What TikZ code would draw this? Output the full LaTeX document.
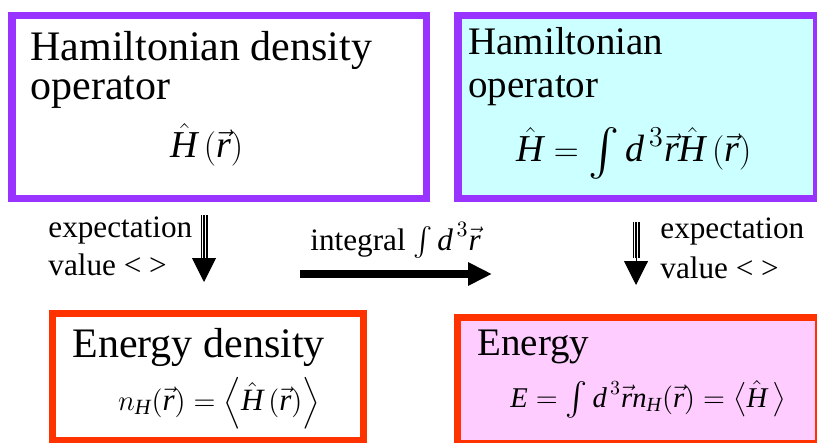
\documentclass[tikz,border=0pt]{standalone}
\usepackage{amsmath}
\usepackage{fontspec}
\setmainfont{Liberation Serif}
\usetikzlibrary{positioning, arrows.meta}
\definecolor{boxpurple}{HTML}{9933FF}
\definecolor{boxred}{HTML}{FF3300}
\definecolor{boxcyan}{HTML}{CCFFFF}
\definecolor{boxpink}{HTML}{FFCCFF}
\newcommand{\Hh}{\hat{\textit{H}}}
\newcommand{\rv}{\vec{\textit{r}}}
\newcommand{\bint}[1]{\mathop{\vcenter{\hbox{\scalebox{#1}{$\int$}}}}}

\begin{document}
\begin{tikzpicture}[
    x=0.5pt, y=-0.5pt,
    hbox/.style={draw=boxpurple, line width=3.75pt, minimum height=91.25pt, inner sep=0pt},
    ebox/.style={draw=boxred, line width=3.5pt, inner sep=0pt},
    bigl/.style={anchor=base west, inner sep=0pt, font=\fontsize{21}{25}\selectfont},
    bigr/.style={anchor=base west, inner sep=0pt, font=\fontsize{19.5}{23}\selectfont},
    formula/.style={anchor=base, inner sep=0pt},
    small/.style={anchor=base west, inner sep=0pt, font=\fontsize{15.6}{19}\selectfont},
    shaft/.style={draw=black, line width=3.5pt, postaction={draw=white, line width=2.1pt, postaction={draw=black, line width=0.7pt}}},
    head/.style={-{Triangle[length=12pt, width=12pt]}, line width=0.5pt},
    bigarrow/.style={-{Triangle[length=12pt, width=11pt]}, line width=4pt}
]
\useasboundingbox (0,0) rectangle (817,443);
\clip (0,0) rectangle (817,443);

% boxes
\node[hbox, minimum width=207.25pt] (h1) at (219,107) {};
\node[hbox, fill=boxcyan, minimum width=179.25pt] (h2) at (637,107) {};
\node[ebox, minimum width=155.5pt, minimum height=63.5pt] (e1) at (208,377) {};
\node[ebox, fill=boxpink, minimum width=180.5pt, minimum height=63pt] (e2) at (638,380.5) {};

% texts in the boxes
\node[bigl] (h1a) at (30,61) {Hamiltonian density};
\node[bigl] (h1b) at (30,100) {operator};
\node[formula, font=\fontsize{19}{23}\selectfont] (h1f) at (207,158) {$\Hh\,(\rv)$};
\node[bigr] (h2a) at (468,55) {Hamiltonian};
\node[bigr] (h2b) at (468,98) {operator};
\node[formula, font=\fontsize{19}{23}\selectfont] (h2f) at (634,162) {$\Hh=\bint{1.35}\textit{d}^{\,3}\rv\Hh\,(\rv)$};
\node[bigl] (e1a) at (72,357) {Energy density};
\node[formula, font=\fontsize{15.5}{19}\selectfont] (e1f) at (219,410) {$n_{\textit{H}}(\rv)=\left\langle\Hh\,(\rv)\right\rangle$};
\node[bigr] (e2a) at (477,355) {Energy};
\node[formula, font=\fontsize{14.3}{18}\selectfont] (e2f) at (648,407) {$\textit{E}=\bint{1.15}\textit{d}^{\,3}\rv\textit{n}_{\textit{H}}(\rv)=\left\langle\Hh\,\right\rangle$};

% labels
\node[small] (l1a) at (48,237) {expectation};
\node[small] (l1b) at (48,275) {value < >};
\node[small] (l2a) at (660,238) {expectation};
\node[small] (l2b) at (660,278) {value < >};
\node[small] (int) at (310,250) {integral $\int\textit{d}^{\,3}\rv$};

% arrows
\draw[shaft] ([shift={(-15,13)}]h1.south) -- ([shift={(-4,-52)}]e1.north);
\draw[head] ([shift={(-15,13)}]h1.south) -- ([shift={(-4,-28)}]e1.north);
\draw[shaft] ([shift={(-1,20)}]h2.south) -- ([shift={(-2,-56)}]e2.north);
\draw[head] ([shift={(-1,20)}]h2.south) -- ([shift={(-2,-29)}]e2.north);
\coordinate (i0) at (300,274);
\coordinate (i1) at (492,274);
\draw[bigarrow] (i0) -- (i1);
\end{tikzpicture}
\end{document}
